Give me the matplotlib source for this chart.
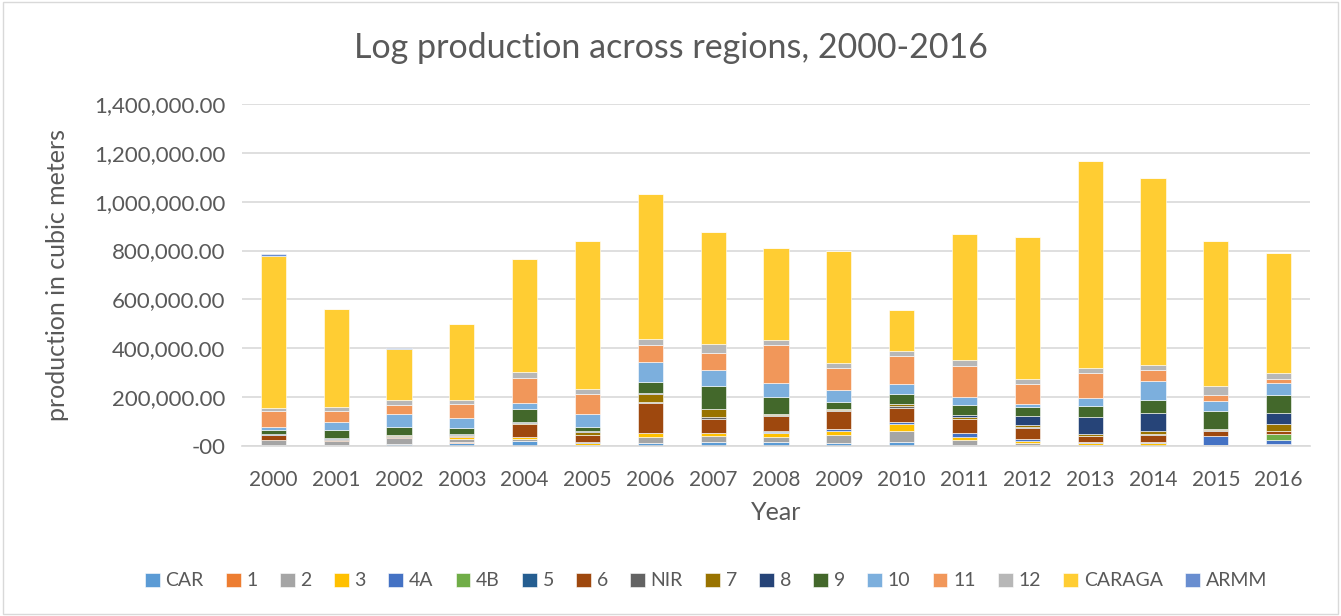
import numpy as np
import matplotlib
matplotlib.use("Agg")
import matplotlib.pyplot as plt
from matplotlib.patches import Rectangle
from matplotlib.ticker import FuncFormatter, MultipleLocator

plt.rcParams['font.family'] = ['Lato', 'DejaVu Sans']

years = [str(y) for y in range(2000, 2017)]
regions = ["CAR", "1", "2", "3", "4A", "4B", "5", "6", "NIR", "7",
           "8", "9", "10", "11", "12", "CARAGA", "ARMM"]
colors = ["#5B9BD5", "#ED7D31", "#A5A5A5", "#FFC000", "#4472C4", "#70AD47",
          "#255E91", "#9E480E", "#636363", "#997300", "#264478", "#43682B",
          "#7CAFDD", "#F1975A", "#B7B7B7", "#FFCD33", "#698ED0"]

# production in cubic meters per region, 2000..2016
car    = [3000, 3000, 8000, 13600, 19000, 2000, 13600, 15000, 17700, 13600, 15000, 0, 0, 2000, 0, 0, 5400]
r1     = [1000, 1000, 1000, 3000, 3000, 1000, 0, 2700, 0, 0, 0, 4000, 5400, 2000, 0, 0, 3000]
r2     = [19000, 15000, 22000, 12000, 8000, 3000, 22000, 23000, 20000, 31300, 46000, 21800, 5400, 0, 0, 0, 0]
r3     = [1000, 1000, 1000, 7000, 6000, 6000, 16000, 10900, 16000, 17700, 31000, 11000, 10900, 8000, 10900, 4000, 0]
r4a    = [0, 0, 0, 0, 0, 0, 0, 0, 2700, 8000, 5000, 15000, 6800, 3000, 4000, 38100, 16300]
r4b    = [0, 0, 0, 0, 0, 0, 0, 0, 0, 0, 0, 0, 0, 0, 0, 0, 23100]
r5     = [1000, 1000, 1000, 1000, 1000, 3000, 0, 3000, 5400, 0, 0, 0, 0, 0, 1400, 0, 0]
r6     = [19000, 5000, 5000, 4000, 52000, 28600, 122500, 57000, 60000, 70800, 57000, 60000, 45000, 24500, 30000, 20400, 13600]
nir    = [1000, 1000, 2000, 1000, 1000, 2000, 4000, 6800, 4000, 5000, 8000, 0, 4000, 0, 2700, 2700, 0]
r7     = [2000, 3000, 5000, 5000, 3000, 10900, 34000, 31300, 4000, 4000, 8000, 8000, 8000, 8000, 10900, 2700, 27200]
r8     = [1000, 2000, 0, 4000, 6000, 4000, 3000, 0, 0, 0, 0, 6800, 36800, 69400, 73500, 0, 47700]
r9     = [16000, 34000, 34000, 24500, 54000, 17700, 46000, 94000, 69400, 28000, 42000, 42000, 38100, 47700, 55800, 73500, 72200]
r10    = [13600, 34000, 50000, 38000, 22000, 51700, 82000, 68000, 60000, 49000, 42000, 30000, 12300, 32700, 77600, 40800, 47700]
r11    = [64000, 42000, 39500, 58000, 104000, 84400, 72000, 69400, 152500, 92000, 115000, 130700, 81700, 102000, 45000, 27200, 19000]
r12    = [13600, 16000, 20000, 16000, 23000, 17700, 23000, 36800, 23000, 19000, 20000, 21800, 20400, 21800, 20400, 36800, 23000]
caraga = [622000, 402000, 207000, 313000, 464000, 606000, 594000, 460000, 376000, 460000, 166000, 517000, 582700, 844000, 766500, 591000, 490000]
armm   = [8000, 0, 5000, 0, 0, 0, 0, 0, 0, 0, 0, 0, 0, 0, 0, 0, 0]

series = [car, r1, r2, r3, r4a, r4b, r5, r6, nir, r7, r8, r9, r10, r11, r12, caraga, armm]

TXT = "#595959"
W, H = 1341, 616

fig = plt.figure(figsize=(W / 100, H / 100), dpi=100)
ax = fig.add_axes([242 / W, 1 - 446 / H, (1310 - 242) / W, (446 - 104) / H])

x = np.arange(len(years))
bottom = np.zeros(len(years))
for name, vals, c in zip(regions, series, colors):
    vals = np.array(vals, dtype=float)
    ax.bar(x, vals, 0.4, bottom=bottom, color=c, label=name,
           edgecolor="white", linewidth=0.4)
    bottom += vals

ax.set_ylim(0, 1400000)
ax.set_xlim(-0.5, len(years) - 0.5)
ax.yaxis.set_major_locator(MultipleLocator(200000))
ax.yaxis.set_major_formatter(FuncFormatter(lambda v, p: "-00" if v == 0 else f"{v:,.2f}"))
ax.set_xticks(x)
ax.set_xticklabels(years)
ax.grid(axis="y", color="#D9D9D9", linewidth=1.2)
ax.set_axisbelow(True)
for s in ["top", "right", "left"]:
    ax.spines[s].set_visible(False)
ax.spines["bottom"].set_color("#D9D9D9")
ax.spines["bottom"].set_linewidth(1.2)
ax.tick_params(length=0, labelsize=15, colors=TXT)
ax.tick_params(axis="y", labelsize=16, pad=12)
ax.tick_params(axis="x", pad=17)

fig.text(58 / W, 1 - 275 / H, "production in cubic meters", rotation=90,
         ha="center", va="center", fontsize=18, color=TXT)
fig.text(776 / W, 1 - 512 / H, "Year", ha="center", va="center", fontsize=18, color=TXT)
fig.text(0.5, 1 - 48 / H, "Log production across regions, 2000-2016",
         ha="center", va="center", fontsize=24.5, color=TXT)

leg = fig.legend(loc="center", bbox_to_anchor=(706 / W, 1 - 581 / H), ncol=17,
                 frameon=False, fontsize=14, handlelength=0.75, handleheight=0.75,
                 handletextpad=0.3, columnspacing=1.15)
for t in leg.get_texts():
    t.set_color(TXT)

fig.patches.append(Rectangle((0.002, 0.003), 0.996, 0.994, transform=fig.transFigure,
                             fill=False, edgecolor="#D9D9D9", linewidth=1))

fig.savefig("out.png", dpi=100)
